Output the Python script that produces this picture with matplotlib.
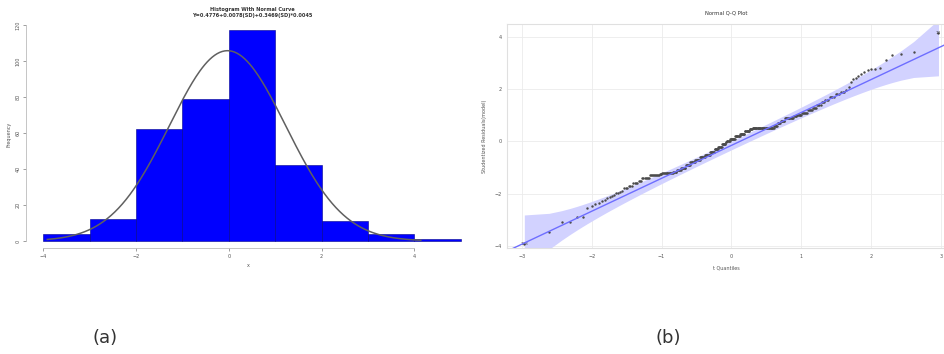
import numpy as np
import matplotlib
matplotlib.use("Agg")
import matplotlib.pyplot as plt
from statistics import NormalDist

# studentized residuals (value, how many points share it)
resid_values = [-3.91, -3.46, -3.08, -2.88,
                -2.55, -2.47, -2.41, -2.34, -2.28, -2.23, -2.18, -2.14, -2.09, -2.05,
                -1.99, -1.97, -1.93, -1.89,
                -1.8, -1.7, -1.6, -1.5, -1.4, -1.3, -1.24, -1.22, -1.18, -1.1,
                -1.0, -0.9, -0.8, -0.7, -0.6, -0.5, -0.4, -0.3, -0.2, -0.1,
                -0.02, 0.02, 0.1, 0.2, 0.3, 0.4, 0.48, 0.51, 0.53, 0.6, 0.7, 0.8, 0.9, 0.97,
                1.03, 1.1, 1.2, 1.3, 1.4, 1.5, 1.6, 1.7, 1.8, 1.9,
                1.98, 2.09, 2.26, 2.39, 2.45, 2.51, 2.57, 2.65, 2.73, 2.77, 2.79, 2.82,
                3.14, 3.33, 3.37, 3.42, 4.14]
resid_counts = [1, 1, 2, 2,
                1, 1, 1, 1, 1, 1, 1, 1, 1, 1,
                1, 1, 1, 1,
                3, 3, 4, 3, 7, 10, 3, 14, 5, 6,
                7, 7, 8, 8, 9, 9, 8, 7, 7, 7,
                2, 6, 10, 9, 9, 9, 5, 20, 17, 5, 5, 6, 12, 4,
                6, 6, 5, 4, 4, 3, 3, 4, 3, 3,
                1, 1, 1, 1, 1, 1, 1, 1, 1, 1, 1, 1,
                1, 1, 1, 1, 1]
hist_breaks = [-4, -3, -2, -1, 0, 1, 2, 3, 4, 5]
hist_xticks = [-4, -2, 0, 2, 4]
hist_yticks = [0, 20, 40, 60, 80, 100, 120]
qq_xticks = [-3, -2, -1, 0, 1, 2, 3]
qq_yticks = [-4, -2, 0, 2, 4]
outlier_labels = ["138", "13"]

resid = np.sort(np.repeat(resid_values, resid_counts))
n = len(resid)
nd = NormalDist()

fig = plt.figure(figsize=(9.45, 3.54), dpi=100)
tick_col = "#555555"

# ---- (a) histogram with normal curve
ax1 = fig.add_axes([26 / 945, 106 / 354, 444 / 945, 228 / 354])
ax1.hist(resid, bins=hist_breaks, color="#0000ff", edgecolor="#00008b", linewidth=0.4)
mu, sd = resid.mean(), resid.std(ddof=1)
xs = np.linspace(resid.min(), resid.max(), 300)
dens = np.array([NormalDist(mu, sd).pdf(v) for v in xs]) * n * 1.0
ax1.plot(xs, dens, color="#606060", lw=1.1)
ax1.set_xlim(-4.37, 5.2)
ax1.set_ylim(-3.9, 122.8)
for s in ["top", "right"]:
    ax1.spines[s].set_visible(False)
ax1.spines["left"].set_bounds(0, 120)
ax1.spines["bottom"].set_bounds(-4, 4)
for s in ["left", "bottom"]:
    ax1.spines[s].set_color("#bbbbbb")
    ax1.spines[s].set_linewidth(0.6)
ax1.set_xticks(hist_xticks)
ax1.set_yticks(hist_yticks)
ax1.tick_params(labelsize=3.5, colors=tick_col, length=2, width=0.4, pad=2)
ax1.tick_params(axis="y", labelrotation=90)
for lab in ax1.get_yticklabels():
    lab.set_va("center")
ax1.set_xlabel("x", fontsize=3.5, color=tick_col, labelpad=3)
ax1.set_ylabel("Frequency", fontsize=3.5, color=tick_col, labelpad=3)
fig.text(252 / 945, 1 - 9 / 354, "Histogram With Normal Curve", ha="center", va="center",
         fontsize=3.6, fontweight="bold", color="#333333")
fig.text(252 / 945, 1 - 15 / 354, "Y=0.4776+0.0078(SD)+0.3469(SD)*0.0045",
         ha="center", va="center", fontsize=3.6, fontweight="bold", color="#333333")

# ---- (b) normal Q-Q plot
ax2 = fig.add_axes([507 / 945, 106 / 354, 438 / 945, 224 / 354])
p = (np.arange(1, n + 1) - 0.5) / n
z = np.array([nd.inv_cdf(v) for v in p])
q1, q3 = np.quantile(resid, [0.25, 0.75])
z1, z3 = nd.inv_cdf(0.25), nd.inv_cdf(0.75)
b = (q3 - q1) / (z3 - z1)
a = q1 - b * z1
fit = a + b * z
se = (b / np.array([nd.pdf(v) for v in z])) * np.sqrt(p * (1 - p) / n)
ax2.fill_between(z, fit - 1.96 * se, fit + 1.96 * se, color="#d2d2ff", lw=0)
ax2.scatter(z, resid, s=3, color="#4a4a4a", zorder=3, linewidths=0)
xl = np.array([-3.215, 3.06])
ax2.plot(xl, a + b * xl, color="#6e6eff", lw=1.0, zorder=4)
ax2.text(z[0], resid[0], outlier_labels[0], fontsize=3, ha="center", va="center", color="#333333")
ax2.text(z[-1], resid[-1], outlier_labels[1], fontsize=3, ha="center", va="center", color="#333333")
ax2.set_xlim(-3.215, 3.06)
ax2.set_ylim(-4.08, 4.5)
ax2.set_xticks(qq_xticks)
ax2.set_yticks(qq_yticks)
ax2.grid(True, color="#ebebeb", lw=0.6)
ax2.set_axisbelow(True)
for s in ax2.spines.values():
    s.set_color("#e0e0e0")
    s.set_linewidth(0.8)
ax2.tick_params(labelsize=3.5, colors=tick_col, length=0, pad=4)
ax2.set_title("Normal Q-Q Plot", fontsize=3.8, color="#333333", pad=7)
ax2.set_xlabel("t Quantiles", fontsize=3.5, color=tick_col, labelpad=5)
ax2.set_ylabel("Studentized Residuals(model)", fontsize=3.5, color=tick_col, labelpad=5)

fig.text(105 / 945, 1 - 338 / 354, "(a)", ha="center", va="center", fontsize=13, color="#333333")
fig.text(668 / 945, 1 - 338 / 354, "(b)", ha="center", va="center", fontsize=13, color="#333333")

fig.savefig("out.png", dpi=100)
